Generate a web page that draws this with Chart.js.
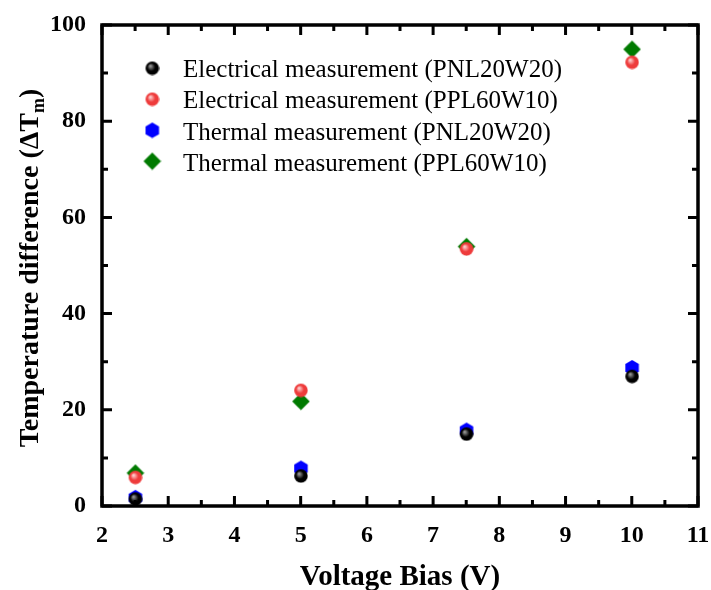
<!DOCTYPE html>
<html>
<head>
<meta charset="utf-8">
<script src="https://cdn.jsdelivr.net/npm/chart.js@4.4.1/dist/chart.umd.min.js"></script>
<style>
html,body{margin:0;padding:0;background:#fff;}
#wrap{width:711px;height:590px;}
</style>
</head>
<body>
<div id="wrap"><canvas id="c" width="711" height="590"></canvas></div>
<script>
// ---- data ----
const voltage = [2.5, 5, 7.5, 10];
const elecPNL = [1.5, 6.3, 15, 27];
const elecPPL = [6, 24.1, 53.5, 92.3];
const thermPNL = [1.8, 7.9, 15.8, 28.8];
const thermPPL = [6.9, 21.8, 54, 95];
const seriesLabels = [
  'Electrical measurement (PNL20W20)',
  'Electrical measurement (PPL60W10)',
  'Thermal measurement (PNL20W20)',
  'Thermal measurement (PPL60W10)'
];
const xTickValues = [2, 3, 4, 5, 6, 7, 8, 9, 10, 11];
const yTickValues = [0, 20, 40, 60, 80, 100];
const xTitle = 'Voltage Bias (V)';
const yTitleMain = 'Temperature difference (\u0394T';
const yTitleSub = 'm';
const yTitleEnd = ')';

// ---- marker images ----
function sphere(base, hl, r) {
  const c = document.createElement('canvas');
  const s = 2 * r + 2;
  c.width = s; c.height = s;
  const g = c.getContext('2d');
  const cx = s / 2, cy = s / 2;
  const grad = g.createRadialGradient(cx - r * 0.3, cy - r * 0.35, r * 0.08, cx, cy, r);
  grad.addColorStop(0, hl);
  grad.addColorStop(0.55, base);
  grad.addColorStop(1, base);
  g.fillStyle = grad;
  g.beginPath(); g.arc(cx, cy, r, 0, Math.PI * 2); g.fill();
  return c;
}
function hexagon(color, r) {
  const c = document.createElement('canvas');
  const s = 2 * r + 2;
  c.width = s; c.height = s;
  const g = c.getContext('2d');
  const cx = s / 2, cy = s / 2;
  g.fillStyle = color;
  g.beginPath();
  for (let i = 0; i < 6; i++) {
    const a = Math.PI / 6 + i * Math.PI / 3;
    const px = cx + r * Math.cos(a), py = cy + r * Math.sin(a);
    if (i === 0) g.moveTo(px, py); else g.lineTo(px, py);
  }
  g.closePath(); g.fill();
  return c;
}
function diamond(color, r) {
  const c = document.createElement('canvas');
  const s = 2 * r + 2;
  c.width = s; c.height = s;
  const g = c.getContext('2d');
  const cx = s / 2, cy = s / 2;
  g.fillStyle = color;
  g.beginPath();
  g.moveTo(cx, cy - r); g.lineTo(cx + r, cy); g.lineTo(cx, cy + r); g.lineTo(cx - r, cy);
  g.closePath(); g.fill();
  return c;
}
const markers = [
  sphere('#000000', '#9a9a9a', 6.8),
  sphere('#ee3b3b', '#ffd0d0', 6.8),
  hexagon('#0000ff', 7.8),
  diamond('#007a00', 8.8)
];

const toPts = arr => voltage.map((x, i) => ({x: x, y: arr[i]}));
const seriesData = [elecPNL, elecPPL, thermPNL, thermPPL];

const FONT = '"Liberation Serif", "Times New Roman", serif';

// ---- plugin: frame, inward ticks, legend, y title ----
const decor = {
  id: 'decor',
  afterDraw(chart) {
    const ctx = chart.ctx;
    const a = chart.chartArea;
    const xs = chart.scales.x, ys = chart.scales.y;
    ctx.save();
    ctx.strokeStyle = '#000';
    ctx.lineCap = 'butt';
    const majL = 10, minL = 6;
    ctx.lineWidth = 3;
    const xVals = xs.ticks.map(t => t.value);
    xVals.forEach((v, i) => {
      const px = xs.getPixelForValue(v);
      ctx.beginPath();
      ctx.moveTo(px, a.bottom); ctx.lineTo(px, a.bottom - majL);
      ctx.moveTo(px, a.top); ctx.lineTo(px, a.top + majL);
      ctx.stroke();
      if (i < xVals.length - 1) {
        const pm = xs.getPixelForValue((v + xVals[i + 1]) / 2);
        ctx.beginPath();
        ctx.moveTo(pm, a.bottom); ctx.lineTo(pm, a.bottom - minL);
        ctx.moveTo(pm, a.top); ctx.lineTo(pm, a.top + minL);
        ctx.stroke();
      }
    });
    const yVals = ys.ticks.map(t => t.value);
    yVals.forEach((v, i) => {
      const py = ys.getPixelForValue(v);
      ctx.beginPath();
      ctx.moveTo(a.left, py); ctx.lineTo(a.left + majL, py);
      ctx.moveTo(a.right, py); ctx.lineTo(a.right - majL, py);
      ctx.stroke();
      if (i < yVals.length - 1) {
        const pm = ys.getPixelForValue((v + yVals[i + 1]) / 2);
        ctx.beginPath();
        ctx.moveTo(a.left, pm); ctx.lineTo(a.left + minL, pm);
        ctx.moveTo(a.right, pm); ctx.lineTo(a.right - minL, pm);
        ctx.stroke();
      }
    });
    ctx.lineWidth = 3.5;
    ctx.strokeRect(a.left, a.top, a.right - a.left, a.bottom - a.top);

    // legend
    const markRows = [68, 99, 130, 161];
    const textBase = [77, 108, 139.5, 170.5];
    ctx.font = '25px ' + FONT;
    ctx.fillStyle = '#000';
    ctx.textBaseline = 'alphabetic';
    ctx.textAlign = 'left';
    seriesLabels.forEach((lab, i) => {
      const m = markers[i];
      ctx.drawImage(m, 152 - m.width / 2, markRows[i] - m.height / 2);
      ctx.fillText(lab, 183, textBase[i]);
    });

    // y title with subscript
    ctx.translate(29, 268);
    ctx.rotate(-Math.PI / 2);
    const fMain = 'bold 28px ' + FONT;
    const fSub = 'bold 18px ' + FONT;
    ctx.font = fMain;
    const w1 = ctx.measureText(yTitleMain).width;
    const w3 = ctx.measureText(yTitleEnd).width;
    ctx.font = fSub;
    const w2 = ctx.measureText(yTitleSub).width;
    const total = w1 + w2 + w3;
    let x0 = -total / 2;
    ctx.font = fMain;
    ctx.fillText(yTitleMain, x0, 9);
    ctx.font = fSub;
    ctx.fillText(yTitleSub, x0 + w1, 15);
    ctx.font = fMain;
    ctx.fillText(yTitleEnd, x0 + w1 + w2, 9);
    ctx.restore();
  }
};

new Chart(document.getElementById('c'), {
  type: 'scatter',
  data: {
    datasets: seriesData.map((arr, i) => ({
      label: seriesLabels[i],
      data: toPts(arr),
      pointStyle: markers[i],
      pointRadius: 7,
      pointHoverRadius: 7,
      showLine: false
    }))
  },
  options: {
    responsive: false,
    animation: false,
    events: [],
    layout: {padding: {left: 0, top: 25, right: 13, bottom: 0}},
    plugins: {legend: {display: false}, tooltip: {enabled: false}},
    scales: {
      x: {
        type: 'linear',
        min: xTickValues[0],
        max: xTickValues[xTickValues.length - 1],
        afterBuildTicks: s => { s.ticks = xTickValues.map(v => ({value: v})); },
        grid: {display: false},
        border: {display: false},
        ticks: {
          color: '#000',
          font: {family: FONT, size: 24, weight: 'bold'},
          padding: 7,
          maxRotation: 0
        },
        title: {
          display: true,
          text: xTitle,
          color: '#000',
          font: {family: FONT, size: 29, weight: 'bold'},
          padding: {top: 15, bottom: -5}
        },
        afterFit: s => { s.height = 84; s.paddingLeft = 0; s.paddingRight = 0; }
      },
      y: {
        type: 'linear',
        min: yTickValues[0],
        max: yTickValues[yTickValues.length - 1],
        afterBuildTicks: s => { s.ticks = yTickValues.map(v => ({value: v})); },
        grid: {display: false},
        border: {display: false},
        ticks: {
          color: '#000',
          font: {family: FONT, size: 24, weight: 'bold'},
          padding: 8
        },
        afterFit: s => { s.width = 102; s.paddingTop = 0; s.paddingBottom = 0; }
      }
    }
  },
  plugins: [decor]
});
</script>
</body>
</html>
